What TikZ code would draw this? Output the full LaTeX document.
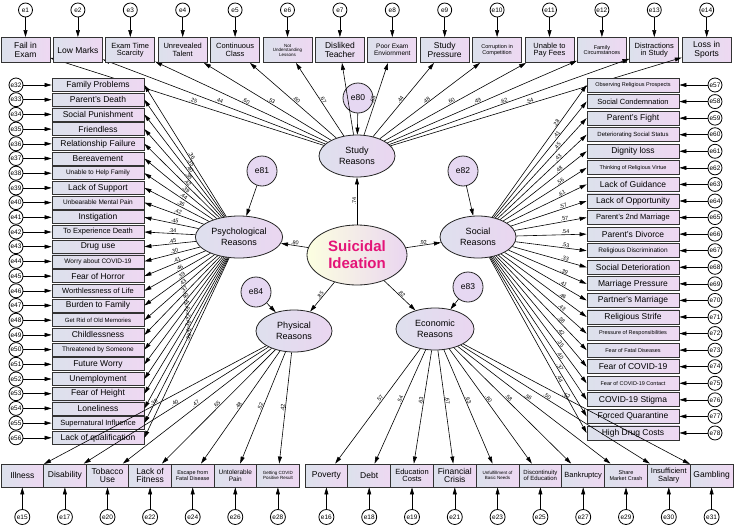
\documentclass[tikz,border=0pt]{standalone}
\usepackage{fontspec}
\setmainfont{Liberation Sans}
\usepackage{xcolor}
\definecolor{boxleft}{RGB}{220,225,236}
\definecolor{boxright}{RGB}{238,216,242}
\definecolor{latleft}{RGB}{222,224,238}
\definecolor{latright}{RGB}{234,214,240}
\definecolor{ideation}{RGB}{228,20,120}
\definecolor{errfill}{RGB}{230,216,242}
\usepackage{tikz}
\usetikzlibrary{shapes.geometric, arrows.meta, positioning, calc}

\newcommand{\fA}{\fontsize{8.5}{8.5}\selectfont}
\newcommand{\fB}{\fontsize{7.5}{7.5}\selectfont}
\newcommand{\fC}{\fontsize{6.5}{6.5}\selectfont}
\newcommand{\fF}{\fontsize{6}{6}\selectfont}
\newcommand{\fD}{\fontsize{5.5}{5.5}\selectfont}
\newcommand{\fE}{\fontsize{4.5}{4.5}\selectfont}

\begin{document}
\begin{tikzpicture}[x=1pt, y=-1pt,
		item/.style={rectangle, draw=black!80, line width=0.8pt,
			left color=boxleft, right color=boxright,
			align=center, inner sep=0pt},
		latent/.style={ellipse, draw=black!85, line width=0.8pt,
			left color=latleft, right color=latright,
			minimum width=76pt, minimum height=42pt,
			align=center, font=\fontsize{9}{10.5}\selectfont},
		err/.style={circle, draw=black, line width=0.8pt, fill=white,
			minimum size=14pt, inner sep=0pt, font=\fontsize{6.5}{6.5}\selectfont},
		lerr/.style={circle, draw=black!85, line width=0.8pt, fill=errfill,
			minimum size=30pt, inner sep=0pt, font=\fontsize{8.5}{8.5}\selectfont},
		arrow/.style={-{Triangle[length=7pt,width=4pt]}, line width=0.6pt},
		load/.style={sloped, above, inner sep=0.5pt, font=\fontsize{5.5}{5.5}\selectfont}
		]
		\useasboundingbox (0,0) rectangle (734,525);
		\fill[white] (0,0) rectangle (734,525);
		
		% latent factors
		\node[latent] (study) at (357,156) {Study\\Reasons};
		\node[latent] (psy) at (239,237) {Psychological\\Reasons};
		\node[latent] (soc) at (478,237) {Social\\Reasons};
		\node[latent] (phy) at (294,331) {Physical\\Reasons};
		\node[latent, minimum width=78pt] (eco) at (435,329) {Economic\\Reasons};
		\node[ellipse, draw=black!85, line width=0.8pt,
			left color=green!10!yellow!12, right color=latright,
			minimum width=100pt, minimum height=60pt, align=center,
			font=\fontsize{15}{17}\selectfont\bfseries, text=ideation]
			(sui) at (357,255) {Suicidal\\Ideation};
		
		\node[lerr] (e80) at (358,98) {e80};
		\node[lerr] (e81) at (262,171) {e81};
		\node[lerr] (e82) at (463,171) {e82};
		\node[lerr] (e84) at (256,292) {e84};
		\node[lerr] (e83) at (468,287) {e83};
		
		\draw[arrow] (e80) -- (study);
		\draw[arrow] (e81) -- (psy);
		\draw[arrow] (e82) -- (soc);
		\draw[arrow] (e84) -- (phy);
		\draw[arrow] (e83) -- (eco);
		
		\draw[arrow] (sui) -- (study) node[load, midway] {.74};
		\draw[arrow] (sui) -- (psy) node[load, midway] {.80};
		\draw[arrow] (sui) -- (soc) node[load, midway] {.92};
		\draw[arrow] (sui) -- (phy) node[load, midway] {.85};
		\draw[arrow] (sui) -- (eco) node[load, midway] {.82};
		
		% study reasons (top row)
		\foreach \lab/\fs/\v [count=\i] in {
			{Fail in\\Exam}/\fA/.25, {Low Marks}/\fA/.44,
			{Exam Time\\Scarcity}/\fB/.60, {Unrevealed\\Talent}/\fB/.53,
			{Continuous\\Class}/\fB/.60, {Not\\Understanding\\Lessons}/\fE/.67,
			{Disliked\\Teacher}/\fA/{}, {Poor Exam\\Enviornment}/\fC/.65,
			{Study\\Pressure}/\fA/.44, {Corruption in\\Competition}/\fD/.48,
			{Unable to\\Pay Fees}/\fB/.60, {Family\\Circumstances}/\fD/.49,
			{Distractions\\in Study}/\fB/.62, {Loss in\\Sports}/\fA/.54} {
			\node[item, font=\fs, minimum width=49pt, minimum height=25pt]
			(s\i) at ({25.5+(\i-1)*52.4}, 50) {\lab};
			\node[err] (e\i) at ({25.5+(\i-1)*52.4}, 10) {e\i};
			\draw[arrow] (e\i) -- (s\i);
			\draw[arrow] (study) -- (s\i) node[load, pos=.48] {\v};
		}
		
		% psychological reasons (left column)
		\foreach \n/\lab/\fs/\v in {
			32/Family Problems/\fA/.36, 33/Parent's Death/\fA/.35,
			34/Social Punishment/\fA/.40, 35/Friendless/\fA/.38,
			36/Relationship Failure/\fA/.42, 37/Bereavement/\fA/.39,
			38/Unable to Help Family/\fC/.44, 39/Lack of Support/\fA/.36,
			40/Unbearable Mental Pain/\fC/.42, 41/Instigation/\fA/.45,
			42/To Experience Death/\fB/.34, 43/Drug use/\fA/.45,
			44/Worry about COVID-19/\fC/.30, 45/Fear of Horror/\fA/.41,
			46/Worthlessness of Life/\fB/.46, 47/Burden to Family/\fA/.39,
			48/Get Rid of Old Memories/\fF/.43, 49/Childlessness/\fA/.37,
			50/Threatened by Someone/\fC/.40, 51/Future Worry/\fA/.44,
			52/Unemployment/\fA/.38, 53/Fear of Height/\fA/.42,
			54/Loneliness/\fA/.36, 55/Supernatural Influence/\fB/.41,
			56/Lack of qualification/\fA/.39} {
			\node[item, font=\fs, minimum width=92pt, minimum height=13pt]
			(p\n) at (98, {85+(\n-32)*14.7}) {\lab};
			\node[err] (e\n) at (16, {85+(\n-32)*14.7}) {e\n};
			\draw[arrow] (e\n) -- (p\n);
			\draw[arrow] (psy) -- (p\n.east) node[load, pos=.45] {\v};
		}
		
		% social reasons (right column)
		\foreach \n/\lab/\fs/\v in {
			57/Observing Religious Prospects/\fD/.28, 58/Social Condemnation/\fB/.41,
			59/Parent's Fight/\fA/.45, 60/Deteriorating Social Status/\fF/.43,
			61/Dignity loss/\fA/.48, 62/Thinking of Religious Virtue/\fD/.56,
			63/Lack of Guidance/\fA/.61, 64/Lack of Opportunity/\fA/.57,
			65/Parent's 2nd Marriage/\fB/.57, 66/Parent's Divorce/\fA/.54,
			67/Religious Discrimination/\fC/.53, 68/Social Deterioration/\fA/.33,
			69/Marriage Pressure/\fA/.39, 70/Partner's Marriage/\fA/.41,
			71/Religious Strife/\fA/.46, 72/Pressure of Responsibilities/\fD/.43,
			73/Fear of Fatal Diseases/\fD/.38, 74/Fear of COVID-19/\fA/.42,
			75/Fear of COVID-19 Contact/\fD/.35, 76/COVID-19 Stigma/\fA/.40,
			77/Forced Quarantine/\fA/.37, 78/High Drug Costs/\fA/.44} {
			\node[item, font=\fs, minimum width=92pt, minimum height=14pt]
			(c\n) at (633, {85+(\n-57)*16.57}) {\lab};
			\node[err] (e\n) at (715, {85+(\n-57)*16.57}) {e\n};
			\draw[arrow] (e\n) -- (c\n);
			\draw[arrow] (soc) -- (c\n.west) node[load, pos=.7] {\v};
		}
		
		% physical reasons (bottom left)
		\foreach \n/\lab/\fs/\v [count=\i] in {
			15/Illness/\fA/.38, 17/Disability/\fA/.40,
			20/{Tobacco\\Use}/\fA/.47, 22/{Lack of\\Fitness}/\fA/.65,
			24/{Escape from\\Fatal Disease}/\fD/.48, 26/{Untolerable\\Pain}/\fC/.52,
			28/{Getting COVID\\Positive Result}/\fE/.42} {
			\node[item, font=\fs, minimum width=42.6pt, minimum height=23pt]
			(h\n) at ({22.3+(\i-1)*42.6}, 475.5) {\lab};
			\node[err, minimum size=15pt] (e\n) at ({22.3+(\i-1)*42.6}, 517) {e\n};
			\draw[arrow] (e\n) -- (h\n);
			\draw[arrow] (phy) -- (h\n) node[load, pos=.5] {\v};
		}
		
		% economic reasons (bottom right)
		\foreach \n/\lab/\fs/\v [count=\i] in {
			16/Poverty/\fA/.57, 18/Debt/\fA/.54,
			19/{Education\\Costs}/\fB/.63, 21/{Financial\\Crisis}/\fA/.67,
			23/{Unfulfillment of\\Basic Needs}/\fE/.63, 25/{Discontinuity\\of Education}/\fF/.60,
			27/Bankruptcy/\fB/.58, 29/{Share\\Market Crash}/\fD/.56,
			30/{Insufficient\\Salary}/\fB/.50, 31/Gambling/\fA/.52} {
			\node[item, font=\fs, minimum width=42.8pt, minimum height=23pt]
			(m\n) at ({326.4+(\i-1)*42.8}, 475.5) {\lab};
			\node[err, minimum size=15pt] (e\n) at ({326.4+(\i-1)*42.8}, 517) {e\n};
			\draw[arrow] (e\n) -- (m\n);
			\draw[arrow] (eco) -- (m\n) node[load, pos=.45] {\v};
		}
	\end{tikzpicture}
\end{document}
